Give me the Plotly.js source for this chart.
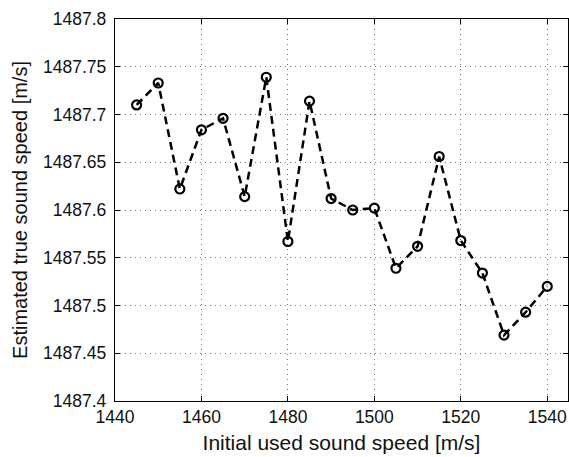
<!DOCTYPE html>
<html>
<head>
<meta charset="utf-8">
<script src="https://cdn.plot.ly/plotly-3.0.1.min.js"></script>
<style>html,body{margin:0;padding:0;background:#fff;}#chart{width:569px;height:457px;}</style>
</head>
<body>
<div id="chart"></div>
<script>
const initialSpeed = [1445,1450,1455,1460,1465,1470,1475,1480,1485,1490,1495,1500,1505,1510,1515,1520,1525,1530,1535,1540];
const estimatedSpeed = [1487.710,1487.733,1487.622,1487.684,1487.696,1487.614,1487.739,1487.567,1487.714,1487.612,1487.600,1487.602,1487.539,1487.562,1487.656,1487.568,1487.534,1487.469,1487.493,1487.520];
const xTicks = [1440,1460,1480,1500,1520,1540];
const yTicks = [1487.4,1487.45,1487.5,1487.55,1487.6,1487.65,1487.7,1487.75,1487.8];
const yTickLabels = ["1487.4","1487.45","1487.5","1487.55","1487.6","1487.65","1487.7","1487.75","1487.8"];

const font = "Liberation Sans, Arial, Helvetica, sans-serif";
const trace = {
  x: initialSpeed, y: estimatedSpeed, type: 'scatter', mode: 'lines+markers',
  line: {color: '#000', width: 2.5, dash: '8px,5px'},
  marker: {symbol: 'circle-open', size: 9, color: '#000', line: {width: 2.2, color: '#000'}},
  hoverinfo: 'skip'
};
const axisCommon = {
  showline: true, linecolor: '#000', linewidth: 1.2, mirror: 'ticks',
  ticks: 'inside', ticklen: 5, tickcolor: '#000', tickwidth: 1,
  showgrid: true, gridcolor: '#777', griddash: '1px,4px', gridwidth: 1,
  zeroline: false, tickfont: {family: font, size: 17.5, color: '#111'}
};
const layout = {
  width: 569, height: 457,
  margin: {l: 115, r: 1, t: 19, b: 56},
  paper_bgcolor: '#fff', plot_bgcolor: '#fff',
  showlegend: false,
  xaxis: Object.assign({}, axisCommon, {
    range: [1440, 1544.8], tickmode: 'array', tickvals: xTicks,
    ticklabelstandoff: 0,
    title: {text: 'Initial used sound speed [m/s]', font: {family: font, size: 21, color: '#111'}, standoff: 9}
  }),
  yaxis: Object.assign({}, axisCommon, {
    range: [1487.4, 1487.8], tickmode: 'array', tickvals: yTicks, ticktext: yTickLabels,
    ticklabelstandoff: 4,
    title: {text: 'Estimated true sound speed [m/s]', font: {family: font, size: 20, color: '#111'}, standoff: 10}
  })
};
Plotly.newPlot('chart', [trace], layout, {staticPlot: true, displayModeBar: false});
</script>
</body>
</html>
